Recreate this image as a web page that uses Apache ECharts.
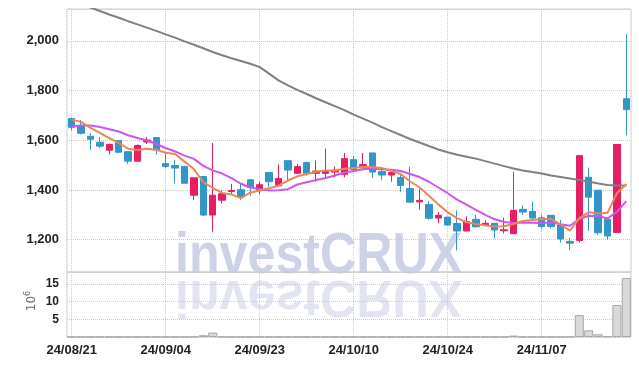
<!DOCTYPE html>
<html><head><meta charset="utf-8">
<script src="https://cdn.jsdelivr.net/npm/echarts@6.0.0/dist/echarts.min.js"></script>
<style>html,body{margin:0;padding:0;background:#fff}#c{width:639px;height:366px}</style>
</head><body><div id="c"></div>
<script>
const dates = ['24/08/21','24/08/22','24/08/23','24/08/26','24/08/27','24/08/28','24/08/29','24/08/30','24/09/02','24/09/03','24/09/04','24/09/05','24/09/06','24/09/09','24/09/10','24/09/11','24/09/12','24/09/13','24/09/19','24/09/20','24/09/23','24/09/24','24/09/25','24/09/26','24/09/27','24/09/30','24/10/02','24/10/04','24/10/07','24/10/08','24/10/10','24/10/11','24/10/14','24/10/15','24/10/16','24/10/17','24/10/18','24/10/21','24/10/22','24/10/23','24/10/24','24/10/25','24/10/28','24/10/29','24/10/30','24/10/31','24/11/01','24/11/04','24/11/05','24/11/06','24/11/07','24/11/08','24/11/11','24/11/12','24/11/13','24/11/14','24/11/15','24/11/18','24/11/19','24/11/20'];
const opens = [1687,1659,1616,1592,1560,1599,1554,1516,1593,1611,1506,1498,1494,1379,1454,1299,1359,1394,1401,1441,1398,1470,1417,1518,1467,1510,1467,1467,1472,1463,1522,1489,1549,1474,1460,1450,1406,1352,1342,1287,1291,1265,1235,1282,1260,1266,1236,1224,1322,1314,1288,1298,1259,1193,1197,1451,1399,1282,1229,1767];
const closes = [1652,1628,1604,1576,1583,1552,1516,1579,1601,1561,1494,1488,1427,1449,1299,1379,1385,1398,1374,1410,1421,1433,1446,1480,1494,1467,1476,1474,1480,1526,1482,1502,1472,1460,1470,1418,1351,1358,1286,1298,1259,1235,1273,1252,1266,1239,1240,1318,1311,1287,1253,1253,1203,1186,1538,1371,1228,1215,1583,1723];
const lows = [1639,1623,1562,1569,1542,1549,1505,1516,1585,1542,1489,1427,1427,1359,1295,1232,1346,1382,1360,1377,1382,1411,1417,1438,1465,1457,1433,1451,1451,1451,1480,1489,1449,1441,1433,1393,1351,1320,1280,1267,1257,1157,1235,1248,1259,1204,1225,1224,1299,1275,1245,1245,1188,1157,1189,1235,1219,1201,1229,1620];
const highs = [1692,1681,1629,1613,1587,1601,1554,1583,1613,1613,1546,1521,1498,1449,1457,1589,1398,1425,1425,1441,1433,1470,1502,1518,1505,1514,1518,1567,1494,1549,1536,1549,1549,1485,1470,1460,1494,1403,1356,1311,1291,1318,1294,1300,1278,1266,1288,1473,1338,1354,1300,1298,1279,1208,1540,1490,1399,1282,1583,2027];
const ma5 = [1683,1674,1650,1630,1609,1589,1566,1561,1566,1562,1550,1545,1514,1484,1431,1408,1388,1382,1367,1389,1398,1407,1417,1438,1455,1464,1473,1478,1478,1485,1488,1493,1492,1488,1477,1464,1434,1411,1377,1342,1310,1287,1270,1263,1257,1253,1254,1263,1275,1279,1282,1284,1261,1236,1287,1310,1305,1308,1387,1424];
const ma10 = [1656,1659,1659,1653,1644,1635,1620,1609,1600,1585,1569,1555,1538,1525,1497,1479,1466,1448,1425,1410,1403,1398,1399,1403,1422,1431,1440,1448,1458,1470,1476,1483,1485,1483,1481,1476,1464,1452,1433,1410,1387,1361,1341,1320,1300,1282,1271,1267,1269,1268,1267,1269,1262,1256,1283,1296,1295,1285,1312,1355];
const maLong = [2162,2148,2134,2120,2106,2093,2079,2066,2053,2040,2026,2013,1998,1984,1970,1955,1942,1930,1919,1908,1894,1868,1841,1821,1803,1786,1769,1753,1737,1721,1703,1687,1671,1653,1637,1621,1605,1591,1577,1563,1552,1542,1534,1526,1516,1506,1496,1486,1478,1472,1466,1458,1452,1446,1440,1434,1426,1420,1418,1418];
const volumes = [0.05,0.05,0.05,0.05,0.05,0.05,0.05,0.05,0.05,0.05,0.05,0.05,0.05,0.05,0.5,1.26,0.05,0.05,0.05,0.05,0.05,0.05,0.05,0.05,0.05,0.05,0.05,0.05,0.05,0.05,0.05,0.05,0.05,0.05,0.05,0.05,0.05,0.05,0.05,0.05,0.05,0.05,0.05,0.05,0.05,0.05,0.05,0.4,0.05,0.05,0.05,0.05,0.05,0.05,6.2,1.9,0.77,0.2,9.06,16.7];
const volumeUnitLabel = ['10', '6'];
const watermark = 'investCRUX';

const candleData = dates.map((d, i) => [opens[i], closes[i], lows[i], highs[i]]);
const FONT = '"Liberation Sans", Arial, sans-serif';
const fmt = v => String(v).replace(/\B(?=(\d{3})+(?!\d))/g, ',');
const gridCol = '#c9c9d6';
const wmFont = 'bold 58px "Liberation Sans", Arial, sans-serif';

const chart = echarts.init(document.getElementById('c'), null, {renderer: 'canvas'});
const option = {
  animation: false,
  grid: [
    {left: 67, right: 8, top: 9, height: 263, show: true, borderColor: '#cccccc', borderWidth: 1, outerBoundsMode: 'none', containLabel: false},
    {left: 67, right: 8, top: 272, height: 65, show: true, borderColor: '#cccccc', borderWidth: 1, outerBoundsMode: 'none', containLabel: false}
  ],
  xAxis: [
    {type: 'category', gridIndex: 0, data: dates, boundaryGap: true,
     axisLine: {show: false}, axisTick: {show: false}, axisLabel: {show: false, interval: 9},
     splitLine: {show: true, interval: 9, alignWithLabel: true, lineStyle: {color: gridCol, type: 'dotted', width: 1}}},
    {type: 'category', gridIndex: 1, data: dates, boundaryGap: true,
     axisLine: {show: false}, axisTick: {show: false},
     axisLabel: {show: true, interval: 9, fontFamily: FONT, fontSize: 13, fontWeight: 'bold', color: '#222', margin: 7},
     splitLine: {show: true, interval: 9, alignWithLabel: true, lineStyle: {color: gridCol, type: 'dotted', width: 1}}}
  ],
  yAxis: [
    {type: 'value', gridIndex: 0, min: 1070, max: 2128, scale: true,
     axisLine: {show: false}, axisTick: {show: false},
     axisLabel: {showMinLabel: false, showMaxLabel: false, fontFamily: FONT, fontSize: 13, fontWeight: 'bold', color: '#222', margin: 8, formatter: fmt},
     splitLine: {show: true, lineStyle: {color: gridCol, type: 'dotted', width: 1}}},
    {type: 'value', gridIndex: 1, min: 0, max: 18.4, interval: 5,
     axisLine: {show: false}, axisTick: {show: false},
     axisLabel: {showMinLabel: false, showMaxLabel: false, fontFamily: FONT, fontSize: 12, fontWeight: 'bold', color: '#222', margin: 8},
     splitLine: {show: true, lineStyle: {color: gridCol, type: 'dotted', width: 1}}}
  ],
  series: [
    {type: 'candlestick', xAxisIndex: 0, yAxisIndex: 0, data: candleData, barWidth: 7, z: 2,
     itemStyle: {color: '#e61e64', color0: '#3296c8', borderColor: '#e61e64', borderColor0: '#3296c8', borderWidth: 1}},
    {type: 'line', xAxisIndex: 0, yAxisIndex: 0, data: maLong, showSymbol: false, z: 3,
     lineStyle: {color: '#808080', width: 2}},
    {type: 'line', xAxisIndex: 0, yAxisIndex: 0, data: ma10, showSymbol: false, z: 3,
     lineStyle: {color: '#cd55eb', width: 2}},
    {type: 'line', xAxisIndex: 0, yAxisIndex: 0, data: ma5, showSymbol: false, z: 4,
     lineStyle: {color: '#eb8755', width: 2}},
    {type: 'bar', xAxisIndex: 1, yAxisIndex: 1, data: volumes, barCategoryGap: '4%',
     itemStyle: {color: '#d9d9d9', borderColor: '#a8a8a8', borderWidth: 1}}
  ],
  graphic: [
    {type: 'text', x: 175, y: 277, scaleX: 0.865, z: -1, silent: true,
     style: {text: watermark, x: 0, y: 9, verticalAlign: 'bottom', font: wmFont, fill: 'rgba(150,160,205,0.48)'}},
    {type: 'text', x: 175, y: 277, scaleX: 0.865, scaleY: -0.88, z: -1, silent: true,
     style: {text: watermark, x: 0, y: 9, verticalAlign: 'bottom', font: wmFont, fill: 'rgba(150,160,205,0.28)'}},
    {type: 'text', x: 32, y: 301, rotation: Math.PI / 2, silent: true,
     style: {text: '{a|' + volumeUnitLabel[0] + '}{b|' + volumeUnitLabel[1] + '}', align: 'center', verticalAlign: 'middle',
       rich: {a: {fontFamily: 'DejaVu Sans', fontSize: 12, fill: '#666', color: '#666'}, b: {fontFamily: 'DejaVu Sans', fontSize: 8, fill: '#666', color: '#666', padding: [0, 0, 8, 0]}}}}
  ]
};
chart.setOption(option);
</script>
</body></html>
